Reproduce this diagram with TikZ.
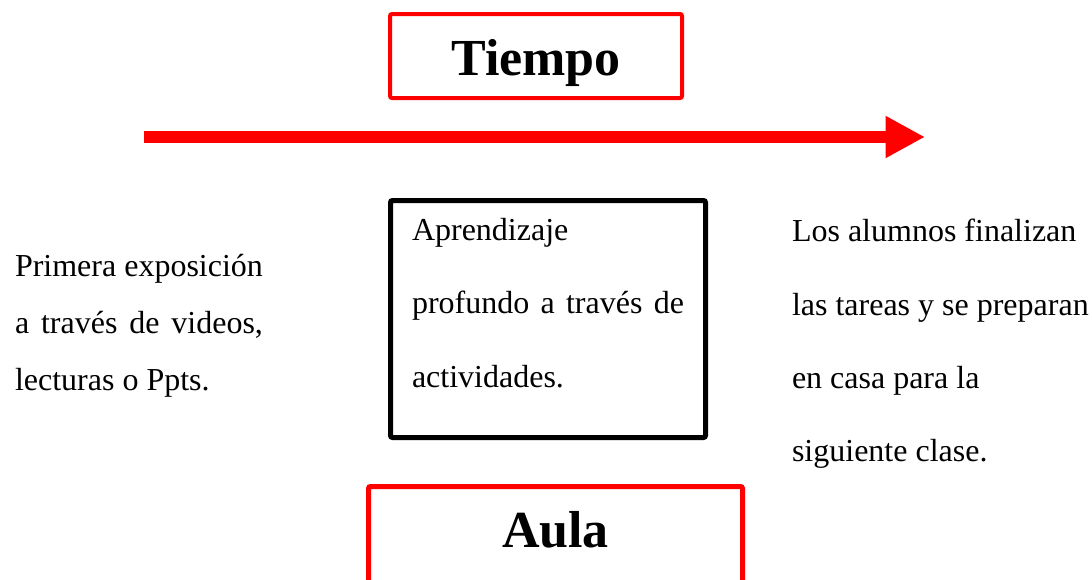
\documentclass[tikz,border=0pt]{standalone}
\usepackage{fontspec}
\setmainfont{Liberation Serif}
\usetikzlibrary{positioning,arrows.meta}

\begin{document}
\begin{tikzpicture}[
	x=0.5pt, y=-0.5pt,
	mytitle/.style = {
		draw=red, line width=2.5pt, rectangle, rounded corners=1pt,
		font=\fontsize{26}{30}\selectfont\bfseries,
		text height=18pt, outer sep=0pt},
	mynode/.style = {
		draw, line width=2.5pt, rectangle, rounded corners=1pt, align=justify,
		text width=136pt, minimum width=157.5pt, minimum height=118.5pt,
		font=\fontsize{16}{36.7}\selectfont, inner xsep=10.75pt, outer sep=0pt},
	mytext/.style = {
		inner sep=0pt, outer sep=0pt, font=\fontsize{16}{36.7}\selectfont},
	arrow/.style = {red, line width=6pt, -{Triangle[length=19.75pt,width=19.7pt]}}
]
\path[use as bounding box, clip] (0,0) rectangle (1092,579);
\coordinate (tc) at (548,319);

\node (n2) [mynode] at (tc) {Aprendizaje\\
	\makebox[\linewidth][s]{profundo a través de}\\
	actividades.\rule[-16.5pt]{0pt}{16.5pt}};

\node (n1) [mytitle, line width=2pt, minimum width=146pt, minimum height=42pt,
	text height=19.5pt, text depth=0pt, above=51.25pt of n2, xshift=-6pt] {Tiempo};
\node (n3) [mytitle, minimum width=187pt, text depth=14pt, inner ysep=12.25pt,
	below=24.5pt of n2, xshift=3.75pt] {Aula};

\node (n2a) [mytext, text width=124pt, align=justify, font=\fontsize{16}{28.5}\selectfont,
	left=63.75pt of n2, yshift=-3.3pt] {Primera exposición\\
	\makebox[\linewidth][s]{a través de videos,}\\
	lecturas o Ppts.};
\node (n2c) [mytext, align=left, right=43.25pt of n2, yshift=-12.5pt]
	{Los alumnos finalizan\\ las tareas y se preparan\\ en casa para la\\ siguiente clase.};

% time axis
\coordinate (t0) at (144,137);
\coordinate (t1) at (925,137);
\draw[arrow] (t0) -- (t1);
\end{tikzpicture}
\end{document}
